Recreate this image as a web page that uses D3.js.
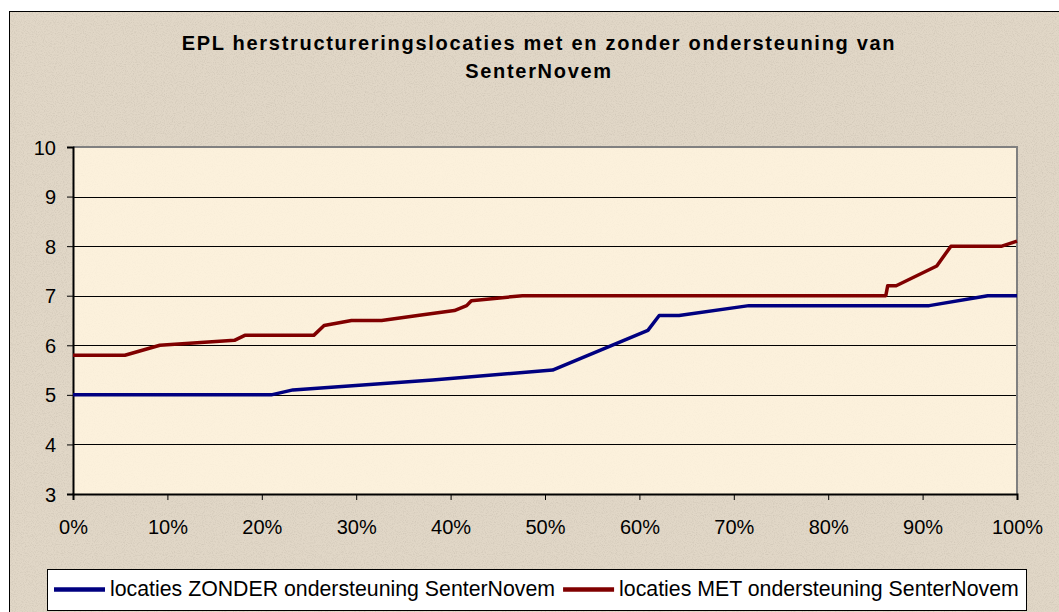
<!DOCTYPE html>
<html>
<head>
  <meta charset="utf-8">
  <script src="https://d3js.org/d3.v7.min.js"></script>
  <title>EPL herstructureringslocaties</title>
  <style>
    body { margin: 0; background: #fff; }
    text { font-family: "Liberation Sans", Arial, sans-serif; fill: #000; }
  </style>
</head>
<body>
<script>
// shares of locations (x) and scores (y)
var zonderX = [0, 0.21, 0.233, 0.381, 0.508, 0.609, 0.621, 0.642, 0.716, 0.907, 0.969, 1];
var zonderY = [5.0, 5.0, 5.1, 5.3, 5.5, 6.3, 6.6, 6.6, 6.8, 6.8, 7.0, 7.0];

var metX = [0, 0.055, 0.092, 0.171, 0.182, 0.255, 0.266, 0.295, 0.327, 0.365, 0.404, 0.417,
            0.422, 0.476, 0.861, 0.863, 0.872, 0.915, 0.930, 0.984, 1];
var metY = [5.8, 5.8, 6.0, 6.1, 6.2, 6.2, 6.4, 6.5, 6.5, 6.6, 6.7, 6.8,
            6.9, 7.0, 7.0, 7.2, 7.2, 7.6, 8.0, 8.0, 8.1];

var xTicks = [0, 0.1, 0.2, 0.3, 0.4, 0.5, 0.6, 0.7, 0.8, 0.9, 1];
var yTicks = [3, 4, 5, 6, 7, 8, 9, 10];

var seriesNames = ["locaties ZONDER ondersteuning SenterNovem", "locaties MET ondersteuning SenterNovem"];
var seriesColors = ["#000080", "#800000"];
var titleLines = ["EPL herstructureringslocaties met en zonder ondersteuning van", "SenterNovem"];

var W = 1059, H = 612;
var plot = {left: 73, right: 1017, top: 147, bottom: 494};

var svg = d3.select("body").append("svg")
  .attr("width", W)
  .attr("height", H);

// paper texture
var defs = svg.append("defs");
var f = defs.append("filter").attr("id", "grain")
  .attr("x", 0).attr("y", 0).attr("width", "100%").attr("height", "100%");
f.append("feTurbulence")
  .attr("type", "fractalNoise")
  .attr("baseFrequency", 0.9)
  .attr("numOctaves", 2)
  .attr("seed", 3);
f.append("feColorMatrix")
  .attr("type", "matrix")
  .attr("values", "0 0 0 0 0.45  0 0 0 0 0.40  0 0 0 0 0.33  0 0 0 -1.6 0.9");

svg.append("rect")
  .attr("x", 9.5).attr("y", 11.5)
  .attr("width", W).attr("height", H)
  .attr("fill", "#e1d7c7")
  .attr("stroke", "#000")
  .attr("stroke-width", 1);
svg.append("rect")
  .attr("x", 10).attr("y", 12)
  .attr("width", W - 10).attr("height", H - 12)
  .attr("filter", "url(#grain)")
  .attr("opacity", 0.45);

var x = d3.scaleLinear().domain([0, 1]).range([plot.left, plot.right]);
var y = d3.scaleLinear().domain([3, 10]).range([plot.bottom, plot.top]);

// plot area
svg.append("rect")
  .attr("x", x(0)).attr("y", y(10))
  .attr("width", x(1) - x(0)).attr("height", y(3) - y(10))
  .attr("fill", "#fcf1dc");
svg.append("rect")
  .attr("x", x(0)).attr("y", y(10))
  .attr("width", x(1) - x(0)).attr("height", y(3) - y(10))
  .attr("filter", "url(#grain)")
  .attr("opacity", 0.08);

// gridlines
svg.append("g")
  .selectAll("line")
  .data(yTicks.slice(1, -1))
  .enter().append("line")
  .attr("x1", x(0)).attr("x2", x(1))
  .attr("y1", function(d) { return Math.round(y(d)) + 0.5; })
  .attr("y2", function(d) { return Math.round(y(d)) + 0.5; })
  .attr("stroke", "#000")
  .attr("stroke-width", 1);

// grey top/right border
svg.append("path")
  .attr("d", "M" + x(0) + "," + y(10) + "H" + x(1) + "V" + y(3))
  .attr("fill", "none")
  .attr("stroke", "#808080")
  .attr("stroke-width", 2);

// axes
var yAxis = svg.append("g")
  .attr("transform", "translate(" + x(0) + ",0)")
  .call(d3.axisLeft(y).tickValues(yTicks).tickSize(6).tickPadding(11).tickFormat(d3.format("d")));
var xAxis = svg.append("g")
  .attr("transform", "translate(0," + y(3) + ")")
  .call(d3.axisBottom(x).tickValues(xTicks).tickSize(6).tickPadding(20).tickFormat(d3.format(".0%")));

[xAxis, yAxis].forEach(function(a) {
  a.select(".domain").attr("stroke", "#000").attr("stroke-width", 2);
  a.selectAll(".tick line").attr("stroke", "#000").attr("stroke-width", 1);
  a.selectAll(".tick text")
    .style("font-family", '"Liberation Sans", Arial, sans-serif')
    .style("font-size", "20px")
    .attr("fill", "#000");
});
yAxis.selectAll(".tick text").attr("dy", "0.35em");

// series
var line = d3.line()
  .x(function(d) { return x(d[0]); })
  .y(function(d) { return y(d[1]); });

var series = [d3.zip(zonderX, zonderY), d3.zip(metX, metY)];

svg.append("g")
  .selectAll("path")
  .data(series)
  .enter().append("path")
  .attr("d", line)
  .attr("fill", "none")
  .attr("stroke", function(d, i) { return seriesColors[i]; })
  .attr("stroke-width", 3.5)
  .attr("stroke-linejoin", "round");

// title
svg.append("g")
  .selectAll("text")
  .data(titleLines)
  .enter().append("text")
  .attr("x", 539)
  .attr("y", function(d, i) { return 50 + i * 28; })
  .attr("text-anchor", "middle")
  .style("font-weight", "bold")
  .style("font-size", "20px")
  .style("letter-spacing", "1.7px")
  .text(function(d) { return d; });

// legend
var legend = svg.append("g");
legend.append("rect")
  .attr("x", 47.5).attr("y", 569.5)
  .attr("width", 979).attr("height", 41)
  .attr("fill", "#fff")
  .attr("stroke", "#000")
  .attr("stroke-width", 1);

var lx = 54;
seriesNames.forEach(function(name, i) {
  legend.append("line")
    .attr("x1", lx).attr("x2", lx + 51)
    .attr("y1", 589.5).attr("y2", 589.5)
    .attr("stroke", seriesColors[i])
    .attr("stroke-width", 4.5);
  var t = legend.append("text")
    .attr("x", lx + 56)
    .attr("y", 596)
    .style("font-size", "21.3px")
    .text(name);
  lx = lx + 56 + t.node().getComputedTextLength() + 8;
});
</script>
</body>
</html>
